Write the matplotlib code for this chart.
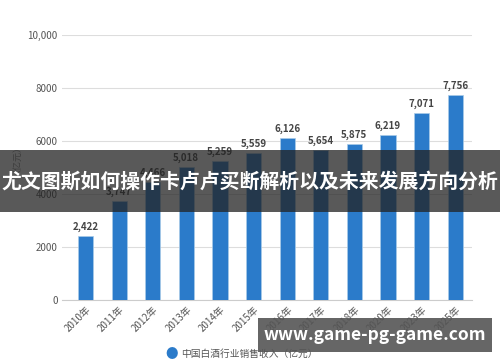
import matplotlib.pyplot as plt
from matplotlib.patches import Rectangle

plt.rcParams['font.family'] = ['Noto Sans CJK SC', 'DejaVu Sans']

years = ['2010年', '2011年', '2012年', '2013年', '2014年', '2015年',
         '2016年', '2017年', '2018年', '2020年', '2023年', '2025年']
sales = [2422, 3747, 4466, 5018, 5259, 5559, 6126, 5654, 5875, 6219, 7071, 7756]
yticks = [0, 2000, 4000, 6000, 8000, 10000]
ytick_labels = ['0', '2000', '4000', '6000', '8000', '10,000']
legend_label = '中国白酒行业销售收入（亿元）'
banner_text = '尤文图斯如何操作卡卢卢买断解析以及未来发展方向分析'
site_text = 'www.game-pg-game.com'

fig = plt.figure(figsize=(5, 3.62), dpi=100)
ax = fig.add_axes([0.124, 0.171, 0.82, 0.732])

x = list(range(len(years)))
ax.bar(x, sales, width=0.45, color='#2b7bca', edgecolor='#a9cbe8', linewidth=0.5, zorder=3)
for xi, v in zip(x, sales):
    ax.text(xi, v + 150, f'{v:,}', ha='center', va='bottom', fontsize=7,
            fontweight='bold', color='#444444', zorder=4)

ax.set_xlim(-0.7, 11.5)
ax.set_ylim(0, 10000)
ax.set_yticks(yticks)
ax.set_yticklabels(ytick_labels, fontsize=7, color='#555555')
ax.set_xticks(x)
ax.set_xticklabels(years, rotation=45, ha='right', rotation_mode='anchor',
                   fontsize=7, color='#555555')
ax.tick_params(length=0, pad=3)
ax.grid(axis='y', color='#dddddd', linewidth=0.8, zorder=0)
for s in ['top', 'right', 'left']:
    ax.spines[s].set_visible(False)
ax.spines['bottom'].set_color('#cccccc')
ax.set_ylabel('（亿元）', fontsize=6.5, color='#888888', labelpad=14)
ax.yaxis.set_label_coords(-0.11, 0.55)

# legend at bottom
fig.text(0.344, 0.022, '●', fontsize=9, color='#2b7bca', ha='center', va='center')
fig.text(0.362, 0.022, legend_label, fontsize=7, color='#555555', ha='left', va='center')

# dark banner across middle
fig.patches.append(Rectangle((0, 1 - 212 / 362), 1, 62 / 362, transform=fig.transFigure,
                             facecolor='#222222', alpha=0.75, zorder=10))
fig.text(0.5, 1 - 181 / 362, banner_text, fontsize=14.3, fontweight='bold',
         color='white', ha='center', va='center', zorder=11)

# site box bottom right
fig.patches.append(Rectangle((258 / 500, 1 - 352 / 362), 234 / 500, 34 / 362,
                             transform=fig.transFigure, facecolor='#555555',
                             alpha=0.9, zorder=10))
fig.text(375 / 500, 1 - 335 / 362, site_text, fontsize=12.5, fontweight='bold',
         color='white', ha='center', va='center', zorder=11)

fig.savefig('out.png', dpi=100)
